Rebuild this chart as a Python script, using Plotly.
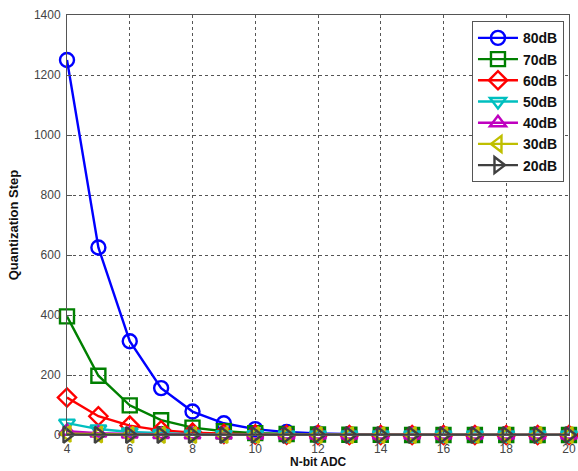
import plotly.graph_objects as go

n_bits = list(range(4, 21))
series_names = ["80dB", "70dB", "60dB", "50dB", "40dB", "30dB", "20dB"]
q80 = [1250, 625, 312.5, 156.3, 78.1, 39.1, 19.5, 9.77, 4.88, 2.44, 1.22, 0.61, 0.31, 0.15, 0.08, 0.04, 0.02]
q70 = [395.3, 197.6, 98.8, 49.4, 24.7, 12.4, 6.18, 3.09, 1.54, 0.77, 0.39, 0.19, 0.10, 0.05, 0.02, 0.01, 0.01]
q60 = [125, 62.5, 31.3, 15.6, 7.81, 3.91, 1.95, 0.98, 0.49, 0.24, 0.12, 0.06, 0.03, 0.02, 0.01, 0.0, 0.0]
q50 = [39.5, 19.8, 9.88, 4.94, 2.47, 1.24, 0.62, 0.31, 0.15, 0.08, 0.04, 0.02, 0.01, 0.0, 0.0, 0.0, 0.0]
q40 = [12.5, 6.25, 3.13, 1.56, 0.78, 0.39, 0.20, 0.10, 0.05, 0.02, 0.01, 0.01, 0.0, 0.0, 0.0, 0.0, 0.0]
q30 = [3.95, 1.98, 0.99, 0.49, 0.25, 0.12, 0.06, 0.03, 0.02, 0.01, 0.0, 0.0, 0.0, 0.0, 0.0, 0.0, 0.0]
q20 = [1.25, 0.63, 0.31, 0.16, 0.08, 0.04, 0.02, 0.01, 0.0, 0.0, 0.0, 0.0, 0.0, 0.0, 0.0, 0.0, 0.0]
all_series = [q80, q70, q60, q50, q40, q30, q20]

colors = ["#0000ff", "#008000", "#ff0000", "#00bfbf", "#bf00bf", "#bfbf00", "#404040"]
symbols = ["circle-open", "square-open", "diamond-open", "triangle-down-open",
           "triangle-up-open", "triangle-left-open", "triangle-right-open"]

fig = go.Figure()
for name, vals, c, s in zip(series_names, all_series, colors, symbols):
    fig.add_trace(go.Scatter(
        x=n_bits, y=vals, name=name, mode="lines+markers",
        line=dict(color=c, width=2.4),
        marker=dict(symbol=s, size=14, color=c, line=dict(color=c, width=2.4)),
        cliponaxis=False,
    ))

axis_common = dict(
    showline=True, linecolor="#555555", linewidth=1, mirror=True,
    ticks="inside", ticklen=5, tickcolor="#555555",
    showgrid=True, gridcolor="#555555", griddash="dot", gridwidth=1,
    zeroline=False, automargin=False,
    tickfont=dict(family="Liberation Sans, Arial", size=12, color="#444444"),
)

fig.update_xaxes(range=[4, 20], tickvals=list(range(4, 21, 2)), ticklabelstandoff=3,
                 **axis_common)
fig.update_yaxes(range=[0, 1400], tickvals=list(range(0, 1401, 200)), ticklabelstandoff=3,
                 title=dict(text="<b>Quantization Step</b>", standoff=12,
                            font=dict(family="Liberation Sans, Arial", size=13, color="#111111")),
                 **axis_common)

fig.add_annotation(
    text="<b>N-bit ADC</b>", xref="paper", yref="paper", x=0.5, y=-0.085,
    xanchor="center", yanchor="bottom", showarrow=False,
    font=dict(family="Liberation Sans, Arial", size=12, color="#111111"),
)

fig.update_layout(
    width=578, height=471,
    margin=dict(l=67, r=9, t=15, b=36),
    paper_bgcolor="white", plot_bgcolor="white",
    legend=dict(x=0.99, y=0.985, xanchor="right", yanchor="top",
                bgcolor="white", bordercolor="#555555", borderwidth=1,
                font=dict(family="Liberation Sans, Arial", size=14, color="#111111", weight="bold"),
                tracegroupgap=0, itemwidth=40),
    showlegend=True,
)

fig.write_html("out.html")
